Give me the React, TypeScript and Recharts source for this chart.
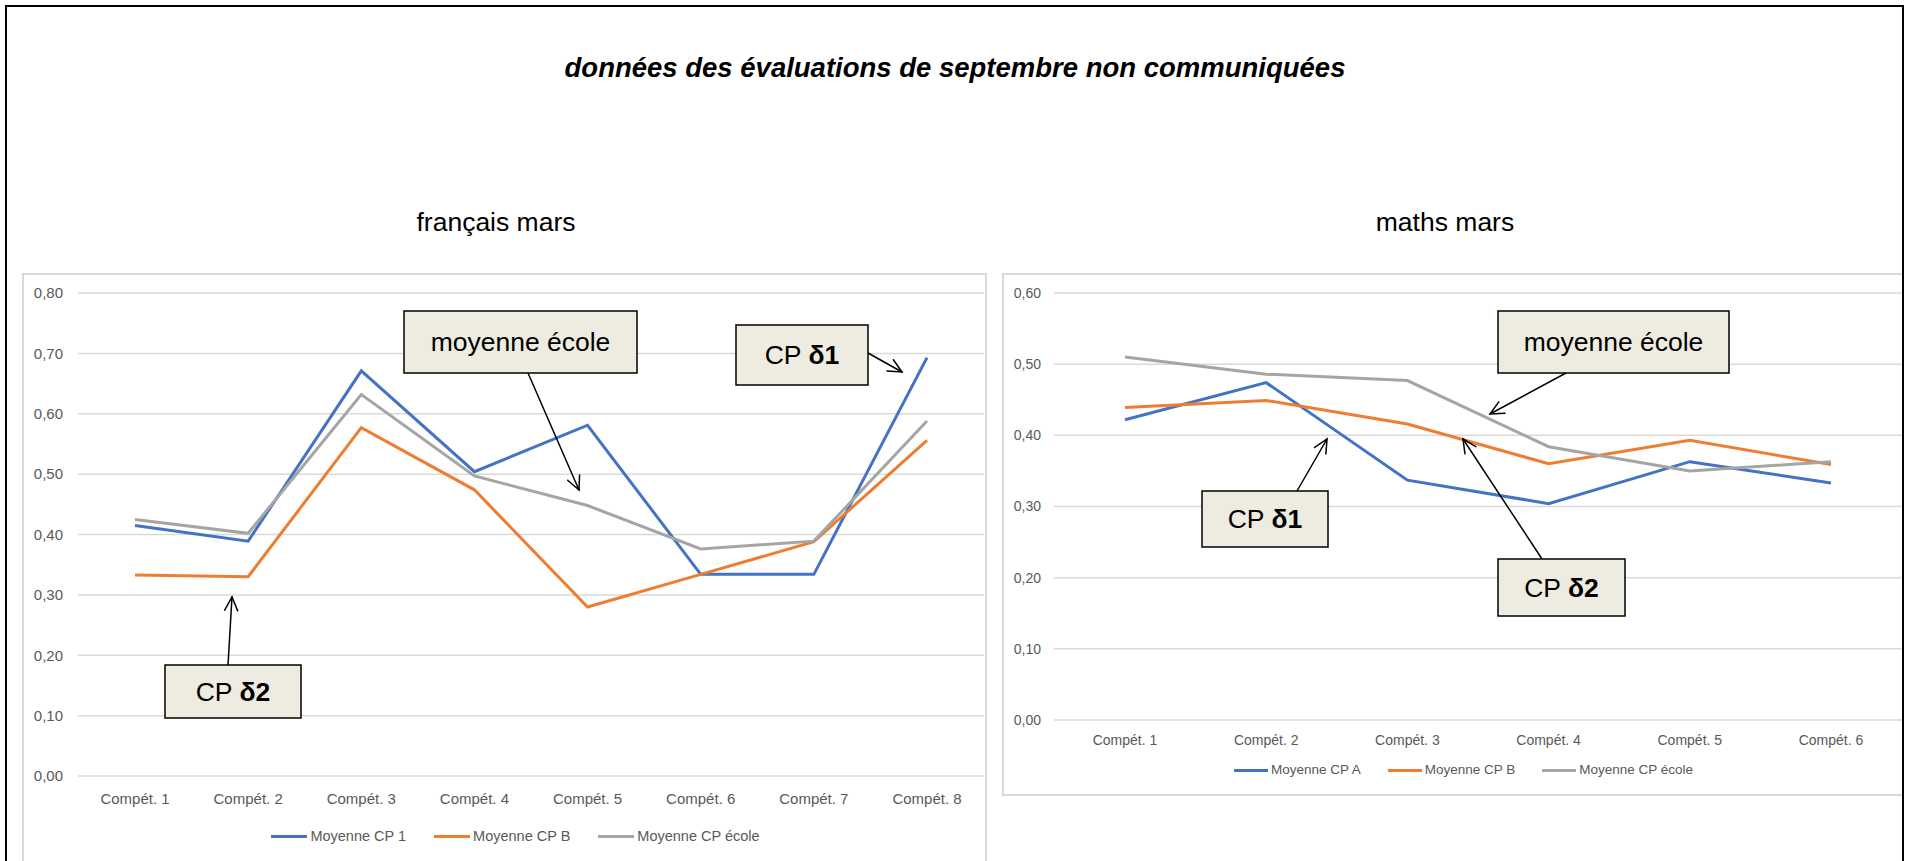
import { LineChart, Line, XAxis, YAxis, CartesianGrid, Legend } from "recharts";

const FONT = "'Liberation Sans', Arial, sans-serif";
const BLUE = "#4472C4";
const ORANGE = "#ED7D31";
const GREY = "#A5A5A5";
const GRID = "#D9D9D9";
const TICK = "#595959";
const NOTE_FILL = "#EEECE1";

// français mars
const FR_CATS = ["Compét. 1", "Compét. 2", "Compét. 3", "Compét. 4", "Compét. 5", "Compét. 6", "Compét. 7", "Compét. 8"];
const FR_CP1 = [0.415, 0.389, 0.671, 0.504, 0.581, 0.334, 0.334, 0.693];
const FR_CPB = [0.333, 0.33, 0.577, 0.474, 0.28, 0.334, 0.388, 0.556];
const FR_ECOLE = [0.425, 0.402, 0.632, 0.497, 0.448, 0.376, 0.389, 0.588];
const FR_TICKS = [0, 0.1, 0.2, 0.3, 0.4, 0.5, 0.6, 0.7, 0.8];

// maths mars
const MA_CATS = ["Compét. 1", "Compét. 2", "Compét. 3", "Compét. 4", "Compét. 5", "Compét. 6"];
const MA_CPA = [0.422, 0.474, 0.337, 0.304, 0.363, 0.333];
const MA_CPB = [0.439, 0.449, 0.416, 0.36, 0.393, 0.359];
const MA_ECOLE = [0.51, 0.486, 0.477, 0.384, 0.35, 0.363];
const MA_TICKS = [0, 0.1, 0.2, 0.3, 0.4, 0.5, 0.6];

const fmt = (v: number) => v.toFixed(2).replace(".", ",");

type Item = { name: string; color: string };

function LegendRow({ items, swatch, fontSize, gap }: { items: Item[]; swatch: number; fontSize: number; gap: number }) {
  return (
    <div
      style={{
        display: "flex",
        justifyContent: "center",
        alignItems: "center",
        fontFamily: FONT,
        fontSize,
        lineHeight: "18px",
        color: TICK,
        whiteSpace: "nowrap",
      }}
    >
      {items.map((it, i) => (
        <span key={it.name} style={{ display: "flex", alignItems: "center", marginLeft: i ? gap : 0 }}>
          <span style={{ display: "inline-block", width: swatch, height: 3, background: it.color, marginRight: 3 }} />
          {it.name}
        </span>
      ))}
    </div>
  );
}

function FrancaisChart() {
  const data = FR_CATS.map((c, i) => ({ name: c, cp1: FR_CP1[i], cpb: FR_CPB[i], ecole: FR_ECOLE[i] }));
  const items = [
    { name: "Moyenne CP 1", color: BLUE },
    { name: "Moyenne CP B", color: ORANGE },
    { name: "Moyenne CP école", color: GREY },
  ];
  return (
    <div style={{ position: "absolute", left: 22, top: 273, width: 965, height: 620 }}>
      <div style={{ position: "absolute", inset: 0, border: `2px solid ${GRID}`, boxSizing: "border-box" }} />
      <div style={{ position: "absolute", left: 0, top: 0 }}>
        <LineChart width={965} height={620} data={data} margin={{ top: 20, right: 3, bottom: 87, left: 0 }}>
          <CartesianGrid vertical={false} stroke={GRID} strokeWidth={1.5} />
          <XAxis
            dataKey="name"
            interval={0}
            padding={{ left: 57, right: 57 }}
            axisLine={false}
            tickLine={false}
            tickSize={0}
            tickMargin={17}
            tick={{ fontSize: 15, fill: TICK, fontFamily: FONT }}
          />
          <YAxis
            domain={[0, 0.8]}
            ticks={FR_TICKS}
            width={56}
            axisLine={false}
            tickLine={false}
            tickSize={0}
            tickMargin={15}
            tickFormatter={fmt}
            tick={{ fontSize: 15, fill: TICK, fontFamily: FONT }}
          />
          <Line type="linear" dataKey="cp1" stroke={BLUE} strokeWidth={3} dot={false} activeDot={false} isAnimationActive={false} />
          <Line type="linear" dataKey="cpb" stroke={ORANGE} strokeWidth={3} dot={false} activeDot={false} isAnimationActive={false} />
          <Line type="linear" dataKey="ecole" stroke={GREY} strokeWidth={3} dot={false} activeDot={false} isAnimationActive={false} />
          <Legend
            layout="horizontal"
            verticalAlign="middle"
            align="center"
            wrapperStyle={{ left: 11, top: 554, width: 965 }}
            content={() => <LegendRow items={items} swatch={36} fontSize={14.5} gap={28} />}
          />
        </LineChart>
      </div>
    </div>
  );
}

function MathsChart() {
  const data = MA_CATS.map((c, i) => ({ name: c, cpa: MA_CPA[i], cpb: MA_CPB[i], ecole: MA_ECOLE[i] }));
  const items = [
    { name: "Moyenne CP A", color: BLUE },
    { name: "Moyenne CP B", color: ORANGE },
    { name: "Moyenne CP école", color: GREY },
  ];
  return (
    <div style={{ position: "absolute", left: 1002, top: 273, width: 900, height: 523, overflow: "hidden" }}>
      <div style={{ position: "absolute", left: 0, top: 0, width: 923, height: 523, border: `2px solid ${GRID}`, boxSizing: "border-box" }} />
      <div style={{ position: "absolute", left: 0, top: 0 }}>
        <LineChart width={923} height={523} data={data} margin={{ top: 20, right: 23, bottom: 46, left: 0 }}>
          <CartesianGrid vertical={false} stroke={GRID} strokeWidth={1.5} />
          <XAxis
            dataKey="name"
            interval={0}
            padding={{ left: 71, right: 71 }}
            axisLine={false}
            tickLine={false}
            tickSize={0}
            tickMargin={15}
            tick={{ fontSize: 14, fill: TICK, fontFamily: FONT }}
          />
          <YAxis
            domain={[0, 0.6]}
            ticks={MA_TICKS}
            width={52}
            axisLine={false}
            tickLine={false}
            tickSize={0}
            tickMargin={13}
            tickFormatter={fmt}
            tick={{ fontSize: 14, fill: TICK, fontFamily: FONT }}
          />
          <Line type="linear" dataKey="cpa" stroke={BLUE} strokeWidth={3} dot={false} activeDot={false} isAnimationActive={false} />
          <Line type="linear" dataKey="cpb" stroke={ORANGE} strokeWidth={3} dot={false} activeDot={false} isAnimationActive={false} />
          <Line type="linear" dataKey="ecole" stroke={GREY} strokeWidth={3} dot={false} activeDot={false} isAnimationActive={false} />
          <Legend
            layout="horizontal"
            verticalAlign="middle"
            align="center"
            wrapperStyle={{ left: 0, top: 488, width: 923 }}
            content={() => <LegendRow items={items} swatch={34} fontSize={13.5} gap={27} />}
          />
        </LineChart>
      </div>
    </div>
  );
}

// callout boxes and their arrows, in page pixels
const NOTES = [
  { x: 404, y: 311, w: 233, h: 62, bold: "", text: "moyenne école", from: [528, 373], to: [579, 490] },
  { x: 736, y: 325, w: 132, h: 60, bold: "δ1", text: "CP ", from: [868, 353], to: [902, 372] },
  { x: 165, y: 665, w: 136, h: 53, bold: "δ2", text: "CP ", from: [228, 665], to: [232, 597] },
  { x: 1498, y: 311, w: 231, h: 62, bold: "", text: "moyenne école", from: [1566, 373], to: [1490, 414] },
  { x: 1202, y: 491, w: 126, h: 56, bold: "δ1", text: "CP ", from: [1297, 491], to: [1327, 439] },
  { x: 1498, y: 559, w: 127, h: 57, bold: "δ2", text: "CP ", from: [1542, 559], to: [1463, 439] },
];

function Arrow({ from, to }: { from: number[]; to: number[] }) {
  const [x1, y1] = from;
  const [x2, y2] = to;
  const a = Math.atan2(y2 - y1, x2 - x1);
  const L = 15;
  const s = Math.PI / 7;
  const p1 = [x2 - L * Math.cos(a - s), y2 - L * Math.sin(a - s)];
  const p2 = [x2 - L * Math.cos(a + s), y2 - L * Math.sin(a + s)];
  return (
    <g stroke="#000" strokeWidth={1.5} fill="none" strokeLinecap="round">
      <line x1={x1} y1={y1} x2={x2} y2={y2} />
      <polyline points={`${p1[0]},${p1[1]} ${x2},${y2} ${p2[0]},${p2[1]}`} />
    </g>
  );
}

function Notes() {
  return (
    <svg width={1905} height={861} style={{ position: "absolute", left: 0, top: 0, pointerEvents: "none" }}>
      {NOTES.map((n, i) => (
        <g key={i}>
          <Arrow from={n.from} to={n.to} />
          <rect x={n.x} y={n.y} width={n.w} height={n.h} fill={NOTE_FILL} stroke="#000" strokeWidth={1.5} />
          <text
            x={n.x + n.w / 2}
            y={n.y + n.h / 2 + 9}
            textAnchor="middle"
            fontFamily={FONT}
            fontSize={26.5}
            fill="#000"
          >
            {n.text}
            {n.bold && <tspan fontWeight="bold">{n.bold}</tspan>}
          </text>
        </g>
      ))}
    </svg>
  );
}

function Label({ cx, cy, size, style, children }: any) {
  return (
    <div
      style={{
        position: "absolute",
        left: cx - 600,
        top: cy - size / 2,
        width: 1200,
        textAlign: "center",
        fontFamily: FONT,
        fontSize: size,
        lineHeight: `${size}px`,
        color: "#000",
        whiteSpace: "nowrap",
        ...style,
      }}
    >
      {children}
    </div>
  );
}

export default function App() {
  return (
    <div style={{ position: "absolute", left: 0, top: 0, width: 1905, height: 861, overflow: "hidden", background: "#fff" }}>
      <Label cx={955} cy={68} size={27.5} style={{ fontWeight: "bold", fontStyle: "italic" }}>
        données des évaluations de septembre non communiquées
      </Label>
      <Label cx={496} cy={222} size={26.5}>
        français mars
      </Label>
      <Label cx={1445} cy={222} size={26.5}>
        maths mars
      </Label>
      <FrancaisChart />
      <MathsChart />
      <Notes />
      <div
        style={{
          position: "absolute",
          left: 5,
          top: 5,
          width: 1899,
          height: 900,
          border: "2px solid #000",
          boxSizing: "border-box",
          pointerEvents: "none",
        }}
      />
    </div>
  );
}
